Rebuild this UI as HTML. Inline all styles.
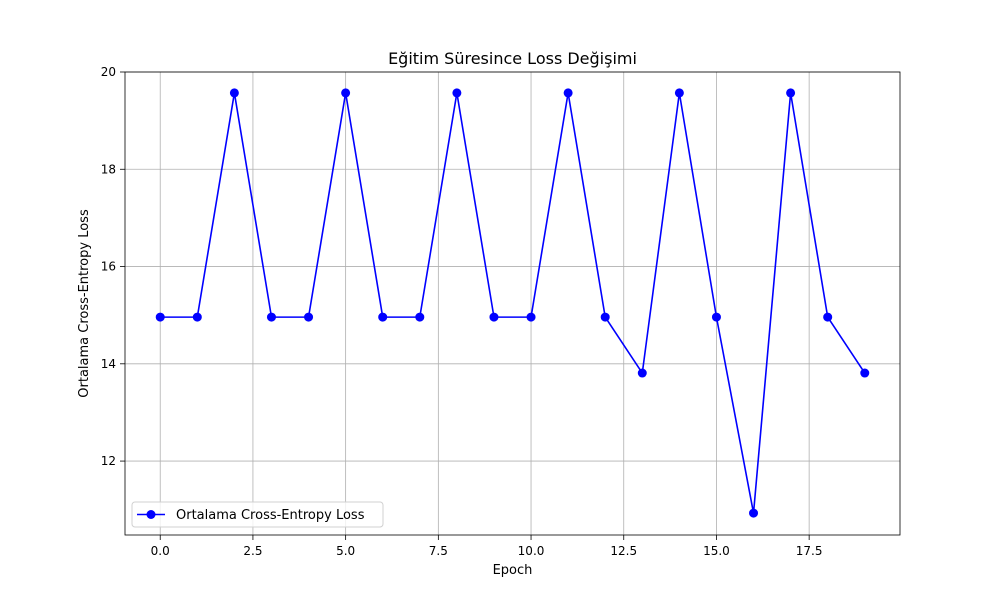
<!DOCTYPE html>
<html><head><meta charset="utf-8"><style>
body{margin:0;background:#fff;font-family:"Liberation Sans","DejaVu Sans",sans-serif}
text{font-family:"DejaVu Sans","Liberation Sans",sans-serif}
</style></head><body>
<svg id="chart" width="1000" height="600" xmlns="http://www.w3.org/2000/svg"></svg>
<script>
const epochs=[0,1,2,3,4,5,6,7,8,9,10,11,12,13,14,15,16,17,18,19];
const lossValues=[14.96,14.96,19.57,14.96,14.96,19.57,14.96,14.96,19.57,14.96,14.96,19.57,14.96,13.81,19.57,14.96,10.93,19.57,14.96,13.81];
const xTicks=[0,2.5,5,7.5,10,12.5,15,17.5];
const xTickLabels=["0.0","2.5","5.0","7.5","10.0","12.5","15.0","17.5"];
const yTicks=[12,14,16,18,20];
const yTickLabels=["12","14","16","18","20"];
const L=125,R=900,T=72,B=535;
const xMin=-0.95,xMax=19.95,yMin=10.48,yMax=20;
const sx=v=>L+(v-xMin)/(xMax-xMin)*(R-L);
const sy=v=>B-(v-yMin)/(yMax-yMin)*(B-T);
const svg=document.getElementById('chart');
const NS="http://www.w3.org/2000/svg";
function mk(tag,attrs,parent){const e=document.createElementNS(NS,tag);for(const k in attrs)e.setAttribute(k,attrs[k]);(parent||svg).appendChild(e);return e;}
xTicks.forEach((t,i)=>{
 const g=mk('line',{x1:sx(t),x2:sx(t),y1:T,y2:B,stroke:'#b0b0b0','stroke-width':0.8});
 
 
 mk('line',{x1:sx(t),x2:sx(t),y1:B,y2:B+5,stroke:'#000','stroke-width':0.8});
 const tx=mk('text',{x:sx(t),y:B+20,'text-anchor':'middle','font-size':12});
 tx.textContent=xTickLabels[i];
 
 
});
yTicks.forEach((t,i)=>{
 const g=mk('line',{x1:L,x2:R,y1:sy(t),y2:sy(t),stroke:'#b0b0b0','stroke-width':0.8});
 
 
 mk('line',{x1:L-5,x2:L,y1:sy(t),y2:sy(t),stroke:'#000','stroke-width':0.8});
 const tx=mk('text',{x:L-9,y:sy(t)+4,'text-anchor':'end','font-size':12});
 tx.textContent=yTickLabels[i];
 
 
});
const ax=mk('rect',{x:L,y:T,width:R-L,height:B-T,fill:'none',stroke:'#000','stroke-width':0.8});


const pts=epochs.map((e,i)=>sx(e)+','+sy(lossValues[i])).join(' ');
const line=mk('polyline',{points:pts,fill:'none',stroke:'#0000ff','stroke-width':1.6});


epochs.forEach((e,i)=>{
 const c=mk('circle',{cx:sx(e),cy:sy(lossValues[i]),r:4.5,fill:'#0000ff'});
 
 
});
const title=mk('text',{x:(L+R)/2,y:64,'text-anchor':'middle','font-size':16});
title.textContent='Eğitim Süresince Loss Değişimi';


const xl=mk('text',{x:(L+R)/2,y:574,'text-anchor':'middle','font-size':13});
xl.textContent='Epoch';


const yl=mk('text',{x:0,y:0,'text-anchor':'middle','font-size':13,transform:`translate(88,${(T+B)/2}) rotate(-90)`});
yl.textContent='Ortalama Cross-Entropy Loss';


const lg=mk('g',{});


mk('rect',{x:132,y:502,width:251,height:25,rx:3,fill:'#fff',stroke:'#d0d0d0','fill-opacity':0.8},lg);
mk('line',{x1:137,x2:165,y1:514.5,y2:514.5,stroke:'#0000ff','stroke-width':1.6},lg);
mk('circle',{cx:151,cy:514.5,r:4.5,fill:'#0000ff'},lg);
const lt=mk('text',{x:176,y:519,'font-size':13},lg);
lt.textContent='Ortalama Cross-Entropy Loss';


</script>
</body></html>
